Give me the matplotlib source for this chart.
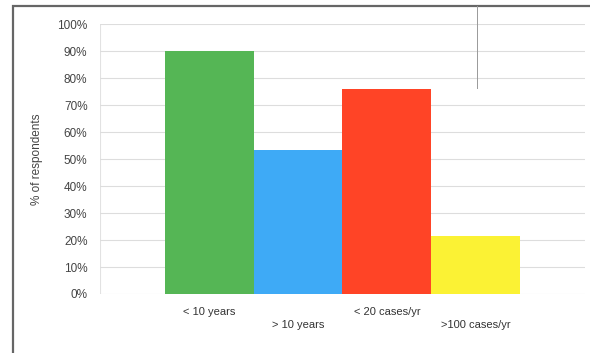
import matplotlib
matplotlib.use("Agg")
import matplotlib.pyplot as plt
from matplotlib.patches import Rectangle
from matplotlib.lines import Line2D

categories = ["< 10 years", "> 10 years", "< 20 cases/yr", ">100 cases/yr"]
values = [90, 53.5, 76, 21.5]
colors = ["#55b655", "#3eaaf6", "#ff4426", "#fbf234"]
yticks = [0, 10, 20, 30, 40, 50, 60, 70, 80, 90, 100]

plt.rcParams['font.family'] = ['Liberation Sans', 'DejaVu Sans']

fig = plt.figure(figsize=(5.9, 3.53), dpi=100)
fig.patch.set_facecolor("white")

# outer frame around the chart
fig.add_artist(Rectangle((13 / 590, -0.05), 1.1, 1 - 6 / 353 + 0.05,
                         transform=fig.transFigure, fill=False,
                         edgecolor="#666666", linewidth=1.6))
# stray vertical rule at the top right
fig.add_artist(Line2D([477 / 590, 477 / 590], [1 - 6 / 353, 1 - 88 / 353],
                      transform=fig.transFigure, color="#999999", linewidth=0.7))

ax = fig.add_axes([100 / 590, 1 - 294 / 353, 485 / 590, 270 / 353])
x = list(range(len(categories)))
ax.bar(x, values, width=1.0, color=colors, zorder=3)

ax.set_xlim(-1.23, 4.23)
ax.set_ylim(0, 100)
ax.set_yticks(yticks)
ax.set_yticklabels([f"{t}%" for t in yticks], fontsize=8.5, color="#444444")
ax.tick_params(axis="y", length=0, pad=9)
ax.set_xticks([])
ax.grid(axis="y", color="#dddddd", linewidth=0.8, zorder=0)
for s in ax.spines.values():
    s.set_visible(False)
ax.axvline(-1.23, color="#e2e2e2", linewidth=0.8, zorder=1)

# staggered category labels
for i, name in enumerate(categories):
    yoff = -6.8 if i % 2 == 0 else -11.6
    ax.text(i, yoff, name, ha="center", va="center", fontsize=8,
            color="#333333", clip_on=False)

ax.set_ylabel("% of respondents", fontsize=8.5, color="#444444", labelpad=10)

fig.savefig("out.png", dpi=100, facecolor="white")
